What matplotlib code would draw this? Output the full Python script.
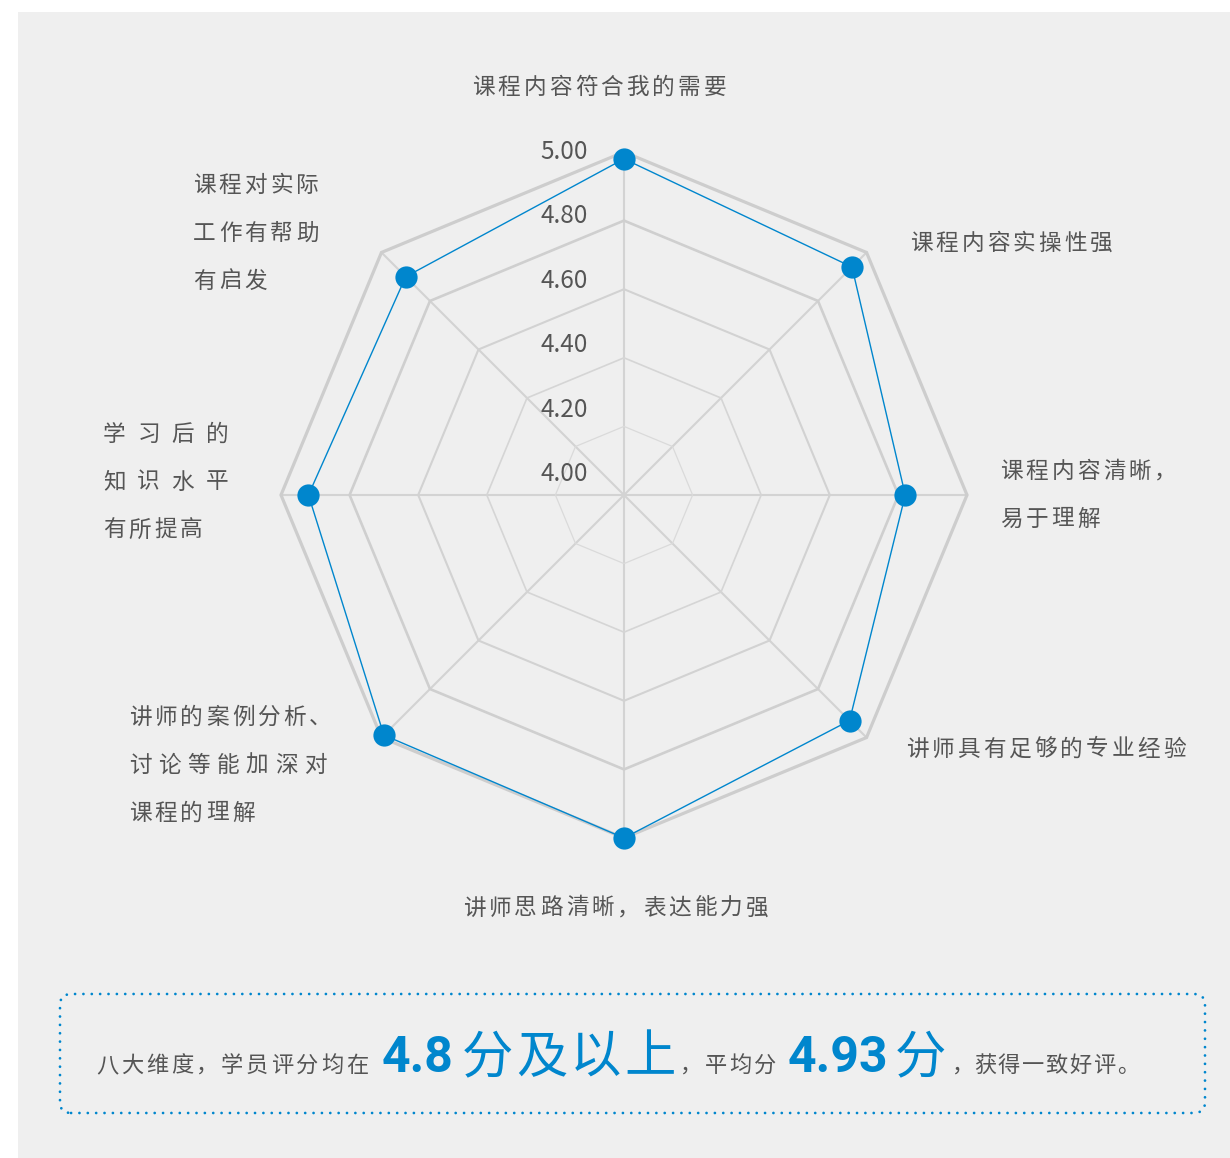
import numpy as np
import matplotlib
matplotlib.use("Agg")
import matplotlib.pyplot as plt
from matplotlib.patches import Rectangle, FancyBboxPatch

plt.rcParams['font.family'] = ['Noto Sans CJK SC', 'DejaVu Sans']

# data (clockwise from top)
categories = ["课程内容符合我的需要", "课程内容实操性强", "课程内容清晰，易于理解",
              "讲师具有足够的专业经验", "讲师思路清晰，表达能力强",
              "讲师的案例分析、讨论等能加深对课程的理解", "学习后的知识水平有所提高",
              "课程对实际工作有帮助有启发"]
scores = [4.98, 4.94, 4.82, 4.93, 5.00, 4.99, 4.92, 4.90]
ring_values = [4.2, 4.4, 4.6, 4.8, 5.0]
tick_values = [5.0, 4.8, 4.6, 4.4, 4.2, 4.0]
tick_labels = ["5.00", "4.80", "4.60", "4.40", "4.20", "4.00"]

W, H = 1230, 1158
GRAY_TXT = "#555555"
BLUE = "#0086cd"

fig = plt.figure(figsize=(W / 100, H / 100), dpi=100, facecolor="white")
fig.patches.append(Rectangle((18 / W, 0), 1 - 18 / W, 1 - 12 / H, transform=fig.transFigure,
                             facecolor="#efefef", edgecolor="none", zorder=-5))

# polar axes: centre (624, 495), radius 343 px
cx, cy, R = 624, 495, 343
ax = fig.add_axes([(cx - R) / W, 1 - (cy + R) / H, 2 * R / W, 2 * R / H], projection="polar")
ax.set_theta_offset(np.pi / 2)
ax.set_theta_direction(-1)
ax.set_ylim(4.0, 5.0)
ax.axis("off")

n = len(scores)
angles = np.linspace(0, 2 * np.pi, n, endpoint=False)
closed = np.append(angles, angles[0])

# spokes
for a in angles:
    ax.plot([a, a], [4.0, 5.0], color="#d3d3d3", lw=1.5, clip_on=False, zorder=1)

# rings, heavier towards the outside
ring_lw = [0.9, 1.2, 1.5, 1.9, 2.3]
ring_col = ["#dadada", "#d5d5d5", "#d2d2d2", "#cfcfcf", "#cdcdcd"]
for v, lw, c in zip(ring_values, ring_lw, ring_col):
    ax.plot(closed, [v] * (n + 1), color=c, lw=lw, clip_on=False, zorder=1,
            solid_joinstyle="miter")

# series
vals = scores + scores[:1]
ax.plot(closed, vals, color=BLUE, lw=1.0, clip_on=False, zorder=3)
ax.plot(angles, scores, "o", color=BLUE, ms=16, mec="none", clip_on=False, zorder=4)

# radial tick labels along the top spoke
for v, lbl in zip(tick_values, tick_labels):
    ax.annotate(lbl, xy=(0, 4.06 + (v - 4.0) * 0.94), xytext=(-26, 0),
                textcoords="offset points", ha="right", va="center",
                fontsize=17.5, color="#555555", annotation_clip=False)


def spaced(x, y, s, pitch, size=16.3, color=GRAY_TXT, va="center"):
    # draw char by char so the letter spacing matches
    for i, ch in enumerate(s):
        if ch == " ":
            continue
        fig.text((x + i * pitch) / W, 1 - y / H, ch, fontsize=size, color=color,
                 ha="left", va=va)


# category labels: (lines, left x, first line y)
P = 25.7
label_pos = [
    (["课程内容符合我的需要"], 472, 87),
    (["课程内容实操性强"], 910, 243),
    (["课程内容清晰，", "易于理解"], 1000, 471),
    (["讲师具有足够的专业经验"], 906, 749),
    (["讲师思路清晰，表达能力强"], 463, 908),
    (["讲师的案例分析、", "讨论等能加深对", "课程的理解"], 129, 717),
    (["学习后的", "知识水平", "有所提高"], 103, 434),
    (["课程对实际", "工作有帮助", "有启发"], 193, 185),
]
custom_pitch = {"讨论等能加深对": 29.2, "学习后的": 34.3, "知识水平": 34.3}
for lines, x, y in label_pos:
    for j, line in enumerate(lines):
        spaced(x, y + j * 48, line, custom_pitch.get(line, P))

# bottom summary box
box = FancyBboxPatch((60 / W, 1 - 1113 / H), 1145 / W, 119 / H,
                     boxstyle="round,pad=0,rounding_size=0.009",
                     transform=fig.transFigure, facecolor="none", edgecolor=BLUE,
                     lw=2.0, linestyle=(0, (0.01, 3.0)), capstyle="round")
fig.patches.append(box)

base = 1072
small = 16.0
spaced(96, base, "八大维度，学员评分均在", 25.0, size=small, va="baseline")
fig.text(382 / W, 1 - base / H, "4.8", fontsize=36, color=BLUE, fontweight="bold",
         family="Roboto", ha="left", va="baseline")
spaced(462, base, "分及以上", 54.0, size=37, color=BLUE, va="baseline")
spaced(680, base, "，", 24, size=small, va="baseline")
spaced(705, base, "平均分", 24.5, size=small, va="baseline")
fig.text(788 / W, 1 - base / H, "4.93", fontsize=36, color=BLUE, fontweight="bold",
         family="Roboto", ha="left", va="baseline")
spaced(895, base, "分", 54.0, size=37, color=BLUE, va="baseline")
spaced(952, base, "，", 24, size=small, va="baseline")
spaced(974, base, "获得一致好评。", 23.8, size=small, va="baseline")

fig.savefig("out.png", dpi=100, facecolor=fig.get_facecolor())
